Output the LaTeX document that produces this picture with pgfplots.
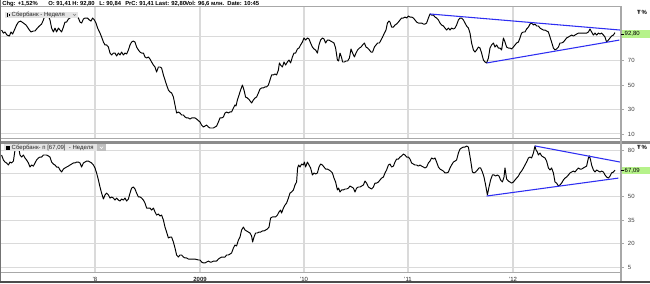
\documentclass[border=0pt]{standalone}
\usepackage{pgfplots}
\pgfplotsset{compat=1.18}
\usepackage{fontspec}
\setmainfont{Liberation Sans}
\definecolor{gridc}{HTML}{DADADA}
\definecolor{framec}{HTML}{A8A8A8}
\definecolor{trend}{HTML}{2E2EF2}
\definecolor{pricebox}{HTML}{B6F28A}
\definecolor{tagbox}{HTML}{E4E4E4}
\pgfplotsset{
 panel/.style={
  scale only axis, width=465.75pt, anchor=south west,
  xmin=0, xmax=310.5,
  axis line style={framec, line width=0.75pt},
  grid=major, major grid style={gridc, line width=0.75pt},
  x grid style={line width=1.3pt},
  xtick={47.5,100,152,204,256.5},
  ytick pos=right, yticklabel pos=right,
  y tick label style={font=\fontsize{4.5}{5}\selectfont, text=black!75, xshift=-0.5pt},
  tick align=outside, major tick length=2.2pt,
  y tick style={framec, line width=0.5pt},
  x tick style={draw=none},
  /pgf/number format/assume math mode=true,
  clip=true,
 },
 price/.style={black, line width=0.72pt, line join=round, mark=none},
 trendl/.style={trend, line width=0.8pt, mark=none},
}
\begin{document}
\begin{tikzpicture}
\fill[white] (0,0) rectangle (487.5pt,212.25pt);
\useasboundingbox (0,0) rectangle (487.5pt,212.25pt);
% ---------------- top panel: Sberbank ordinary, weekly ----------------
\begin{axis}[panel, at={(0pt,108.75pt)}, height=98.25pt,
  ymin=6.73, ymax=113.7, ytick={10,30,50,70,90}, yticklabels={10,30,50,70,},
  xticklabels={}]
\addplot[price] coordinates {
(0.8,94.9) (1.7,92.4) (2.5,93.3) (3.5,90.8) (4.7,90.0) (5.5,93.3) (6.3,91.6) (7.2,94.9)
(8.3,99.0) (9.2,101.4) (10.3,102.2) (11.7,100.6) (13,99.0) (14.7,94.9) (15.5,93.3) (16.7,94.1)
(17.5,94.1) (18.7,96.5) (19.7,98.2) (20.8,99.8) (21.7,103.1) (22.5,107.1) (23.3,105.5) (24.2,106.3)
(25,103.1) (25.8,96.5) (26.7,93.3) (27.5,96.5) (28.3,93.3) (29.2,96.5) (30,94.9) (30.8,93.3)
(31.7,97.3) (32.5,101.4) (33.3,101.4) (34.2,103.9) (35,104.7) (35.8,107.1) (36.7,108.0) (37.5,107.1)
(38.3,105.5) (39.2,104.7) (40,101.4) (40.8,100.6) (41.7,103.9) (42.5,104.7) (43.7,104.7) (44.7,103.1)
(45.5,102.2) (46.3,104.7) (47.2,103.1) (48,100.6) (48.8,96.5) (50,92.4) (50.8,89.2) (51.7,85.1)
(52.5,82.7) (53.3,82.7) (54.2,81.0) (55,76.1) (55.8,74.5) (56.7,76.1) (57.5,76.1) (58.3,73.7)
(59.2,76.1) (60,74.5) (60.8,76.9) (61.7,74.5) (62.5,76.1) (63.3,75.3) (64.2,78.6) (65,82.7)
(65.8,85.1) (66.7,85.9) (67.5,85.1) (68.3,81.0) (69.2,78.6) (70,76.9) (70.8,76.1) (71.7,76.1)
(72.5,72.9) (73.3,72.0) (74.2,72.9) (75,71.2) (75.8,68.8) (76.7,66.3) (77.5,64.7) (78.3,60.6)
(79.2,64.7) (80,64.7) (80.8,63.9) (81.7,58.2) (82.5,54.1) (83.3,50.0) (84.2,45.9) (85,44.3)
(85.8,43.5) (86.7,40.2) (87.5,33.7) (88.3,27.1) (89.2,28.0) (90,27.1) (90.8,25.5) (91.7,25.5)
(92.5,23.9) (93.3,23.1) (94.2,23.1) (95,22.2) (95.8,23.1) (96.7,23.1) (97.5,23.1) (98.3,22.2)
(100,19.8) (100.8,17.3) (101.7,15.7) (102.5,16.5) (103.3,17.3) (104.2,15.7) (105,14.9) (105.8,14.9)
(106.7,14.9) (107.5,15.7) (108.3,16.5) (109.2,19.8) (110,23.1) (110.8,23.1) (111.7,23.9) (112.5,27.1)
(113.3,28.0) (114.2,27.1) (115,28.0) (115.8,28.0) (116.7,31.2) (117.5,33.7) (118,32.9) (118.7,37.8)
(119.5,41.8) (120.3,45.9) (121.2,50.0) (122,45.9) (122.8,40.2) (123.7,39.4) (124.7,37.8) (125.8,35.3)
(126.7,37.8) (127.5,39.4) (128.3,40.2) (129.2,43.5) (130,46.7) (130.8,47.6) (131.7,47.6) (132.5,48.4)
(133.3,48.4) (134.2,50.0) (135,54.1) (135.8,58.2) (136.7,58.2) (137.5,59.0) (138.3,58.2) (139.2,62.2)
(139.7,68.0) (140.3,66.3) (141.2,64.7) (142,68.8) (142.8,66.3) (143.7,68.8) (144.5,70.4) (145.3,68.0)
(146.2,72.9) (147,76.1) (147.8,76.1) (148.7,79.4) (149.5,80.2) (150.3,82.7) (151.2,85.1) (152,88.4)
(152.8,86.7) (153.7,88.4) (154.5,87.6) (155.3,84.3) (156.2,81.0) (157,79.4) (157.8,78.6) (158.7,76.1)
(159.5,82.7) (160.3,86.7) (161.2,88.4) (162,87.6) (162.8,84.3) (163.7,86.7) (164.5,86.7) (165.3,85.9)
(166.2,85.1) (167,84.3) (167.8,80.2) (168.7,70.4) (169.3,69.6) (170,76.1) (170.7,72.9) (171.3,68.8)
(172.2,68.8) (173,69.6) (173.8,69.6) (174.7,72.0) (175.5,79.4) (176.3,76.1) (177.2,72.9) (178,76.1)
(178.8,78.6) (179.7,80.2) (180.5,81.0) (181.3,82.7) (182.2,84.3) (183,81.0) (183.8,80.2) (184.7,78.6)
(185.5,76.9) (186.3,76.9) (187.2,81.0) (188,82.7) (188.8,84.3) (189.7,84.3) (190.5,86.7) (191.3,89.2)
(192.2,92.4) (193,94.9) (193.7,100.6) (194.5,102.2) (195,101.4) (195.8,97.3) (196.7,97.3) (197.5,99.0)
(198.3,99.8) (199.2,101.4) (200,103.1) (200.8,104.7) (201.7,104.7) (202.5,105.5) (203.3,104.7) (204.2,106.3)
(205,105.5) (205.8,105.5) (206.7,104.7) (207.5,103.1) (208.3,101.4) (209.2,100.6) (210,100.6) (210.8,100.6)
(211.7,99.8) (212.5,99.8) (213.3,100.6) (214.2,104.7) (215,108.0) (215.8,107.1) (216.7,107.1) (217.5,105.5)
(218.3,104.7) (219.2,103.1) (220,100.6) (220.8,99.0) (221.7,98.2) (222.5,96.5) (223.3,94.9) (224.2,96.5)
(225,94.9) (225.8,96.5) (226.7,95.7) (227.5,96.5) (228.3,99.0) (229.2,103.1) (230,104.7) (230.8,104.7)
(231.7,103.1) (232.5,100.6) (233.3,98.2) (234.2,96.5) (235,92.4) (235.8,84.3) (236.7,78.6) (237.5,76.9)
(238.3,78.6) (239.2,81.0) (240,80.2) (240.8,76.1) (241.7,70.4) (242.5,68.8) (243.3,68.0) (244.2,72.0)
(245,80.2) (245.8,82.7) (246.7,84.3) (247.5,81.0) (248.3,82.7) (249.2,80.2) (250,80.2) (250.8,78.6)
(251.7,88.4) (252.5,85.1) (253.3,81.0) (254.2,80.2) (255,80.2) (255.8,79.4) (256.7,81.0) (257.5,82.7)
(258.3,84.3) (259.2,85.1) (260,88.4) (260.8,92.4) (261.7,93.3) (262.5,93.3) (263.3,95.7) (264.2,97.3)
(265,99.8) (265.8,100.6) (266.7,99.0) (267.5,99.8) (268.3,98.2) (269.2,98.2) (270,96.5) (270.8,95.7)
(271.7,94.9) (272.5,94.9) (273.3,94.1) (274.2,93.3) (275,89.2) (275.8,85.1) (276.7,80.2) (277.5,78.6)
(278.3,79.4) (279.2,81.0) (280,84.3) (280.8,84.3) (281.7,85.1) (282.5,86.7) (283.3,88.4) (284.2,89.2)
(285,90.0) (285.8,90.8) (286.7,90.0) (287.5,90.8) (288.3,91.6) (289.2,92.4) (290,92.4) (290.8,92.4)
(291.7,92.4) (292.5,92.4) (293.3,92.4) (294.2,93.3) (295,95.7) (295.8,93.3) (296.7,90.8) (297.5,92.4)
(298.3,90.8) (299.2,92.4) (300,91.6) (300.8,92.4) (301.7,90.8) (302.5,89.2) (303.3,85.1) (304.2,86.7)
(305,88.4) (305.8,90.0) (306.7,90.8) (307.5,92.8)
};
\addplot[trendl] coordinates {(215,108.0) (310,94.9)};
\addplot[trendl] coordinates {(243.3,68.0) (309.7,86.7)};
\end{axis}
% ---------------- bottom panel: Sberbank preferred, weekly ----------------
\begin{axis}[panel, at={(0pt,8.25pt)}, height=96.75pt,
  ymin=1.8, ymax=84.5, ytick={5,20,35,50,65,80}, yticklabels={5,20,35,50,,80},
  xticklabels={’8,\textbf{2009},’10,’11,’12},
  x tick label style={font=\fontsize{4.5}{5}\selectfont, text=black!85, inner sep=0pt, yshift=-1.9pt}]
\addplot[price] coordinates {
(0.8,76.8) (1.7,73.6) (2.5,72.3) (3.3,71.7) (4.2,70.4) (5,72.3) (5.8,71.7) (6.7,72.9)
(7.5,80.0) (8.3,81.9) (9.2,82.6) (10,76.8) (10.8,75.5) (11.7,76.8) (12.5,74.9) (13.3,73.6)
(14.2,71.7) (15,69.1) (15.8,70.4) (16.7,69.7) (17.5,71.7) (18.3,73.6) (19.2,74.9) (20,75.5)
(20.8,75.5) (21.7,76.8) (22.5,76.8) (23.3,76.8) (24.2,76.2) (25,75.5) (25.8,72.3) (26.7,71.0)
(27.5,70.4) (28.3,69.1) (29.2,69.1) (30,67.2) (30.8,65.9) (31.7,67.8) (32.5,68.5) (33.3,69.1)
(34.2,69.7) (35,70.4) (35.8,71.0) (36.7,71.7) (37.5,71.7) (38.3,72.3) (39.2,72.3) (40,71.7)
(40.8,69.1) (41.7,71.7) (42.5,72.3) (43.3,72.9) (44.2,72.9) (45,72.3) (45.8,71.7) (46.7,70.4)
(47.5,68.5) (48.3,65.3) (49.2,60.8) (50,56.3) (50.8,52.4) (51.7,48.6) (52.5,51.2) (53.3,52.4)
(54.2,51.2) (55,49.2) (55.8,49.9) (56.7,49.2) (57.5,47.9) (58.3,49.2) (59.2,47.9) (60,47.3)
(60.8,48.6) (61.7,47.9) (62.5,49.2) (63.3,47.3) (64.2,48.6) (65,52.4) (65.8,55.6) (66.7,56.3)
(67.5,55.0) (68.3,52.4) (69.2,49.9) (70,49.9) (70.8,49.2) (71.7,47.9) (72.5,46.0) (73.3,42.8)
(74.2,42.8) (75,42.8) (75.8,41.5) (76.7,42.8) (77.5,40.3) (78.3,38.3) (79.2,39.0) (80,37.7)
(80.8,38.3) (81.7,35.1) (82.5,30.6) (83.3,27.4) (84.2,23.6) (85,24.2) (85.8,24.2) (86.7,21.0)
(87.5,17.2) (88.3,12.7) (89.2,11.4) (90,12.7) (90.8,12.7) (91.7,11.4) (92.5,10.8) (93.3,10.8)
(94.2,10.1) (95,10.1) (95.8,10.1) (97.5,10.1) (99.2,9.5) (100,9.5) (100.8,8.2) (101.7,7.6)
(102.5,7.6) (103.3,8.2) (104.2,8.8) (105,8.2) (105.8,8.2) (106.7,8.8) (107.5,8.8) (108.3,8.8)
(109.2,10.1) (110,10.8) (110.8,11.4) (111.7,11.4) (112.5,11.4) (113.3,12.7) (114.2,12.7) (115,13.3)
(115.8,14.0) (116.7,17.2) (117.5,19.1) (118.3,18.5) (119.2,22.3) (120,24.2) (120.8,28.7) (121.7,30.6)
(122.5,28.7) (123.3,28.1) (124.2,27.4) (125,26.8) (125.8,24.9) (126.3,21.0) (127,24.2) (127.8,26.8)
(128.7,26.8) (129.5,27.4) (130.3,27.4) (131.2,28.1) (132,28.1) (132.8,28.7) (133.7,29.4) (134.5,30.6)
(135.3,36.4) (136.2,37.1) (137,37.1) (137.8,37.1) (138.7,38.3) (139.5,40.3) (140.3,41.5) (140.8,39.6)
(141.7,42.8) (142.5,44.7) (143.3,46.0) (144.2,49.2) (145,52.4) (145.8,53.1) (146.7,54.4) (147.5,57.6)
(148.3,59.5) (148.8,68.5) (149.3,70.4) (150,69.1) (150.8,71.0) (151.7,70.4) (152.2,72.3) (152.8,69.1)
(153.7,72.3) (154.5,70.4) (155.3,68.5) (156.2,64.0) (157,65.3) (157.8,64.6) (158.7,65.3) (159.5,69.1)
(160.3,71.0) (161.2,70.4) (162,69.1) (162.8,67.8) (163.7,67.8) (164.5,67.2) (165.3,66.5) (166.2,65.3)
(167,62.0) (167.8,59.5) (168.7,54.4) (169.3,55.6) (170,53.1) (170.8,54.4) (171.7,54.4) (172.5,55.0)
(173.3,55.0) (174.2,55.6) (175,56.9) (175.8,56.3) (176.7,55.6) (177.5,53.1) (178.3,55.6) (179.2,56.3)
(180,56.3) (180.8,56.9) (181.7,57.6) (182.5,60.1) (183.3,58.8) (184.2,56.3) (185,55.6) (185.8,55.0)
(186.7,56.3) (187.5,58.8) (188.3,58.8) (189.2,59.5) (190,60.8) (190.8,62.0) (191.7,62.7) (192.5,65.3)
(193.3,67.2) (194.2,70.4) (195,71.0) (195.8,69.1) (196.7,69.7) (197.5,72.3) (198.3,74.2) (199.2,74.2)
(200,75.5) (200.8,76.2) (201.7,77.4) (202.5,76.8) (203.3,75.5) (204.2,75.5) (205,74.2) (205.8,71.7)
(206.7,71.0) (207.5,70.4) (208.3,70.4) (209.2,69.7) (210,70.4) (210.8,69.7) (211.7,69.1) (212.5,68.5)
(213.3,69.1) (214.2,71.7) (215,72.9) (215.8,74.9) (216.7,74.2) (217.5,74.9) (218.3,72.3) (219.2,69.1)
(220,67.8) (220.8,67.2) (221.7,66.5) (222.5,65.3) (223.3,65.3) (224.2,65.9) (225,68.5) (225.8,70.4)
(226.7,72.3) (227.5,72.9) (228.3,73.6) (229.2,78.1) (230,80.6) (230.8,81.3) (231.7,81.9) (232.5,81.9)
(233.3,82.6) (234.2,81.9) (234.7,78.1) (235.3,73.6) (236.2,65.9) (237,65.3) (237.8,65.9) (238.7,67.2)
(239.5,68.5) (240.3,68.5) (241.2,65.9) (242,62.7) (242.8,57.6) (243.7,51.2) (244.5,56.3) (245.3,60.8)
(246.2,64.0) (247,64.0) (247.8,63.3) (248.7,64.0) (249.5,63.3) (250.3,60.8) (251.2,59.5) (252,62.7)
(252.5,68.5) (253.3,61.4) (254.2,60.1) (255,59.5) (255.8,58.8) (256.7,59.5) (257.5,60.8) (258.3,62.0)
(259.2,63.3) (260,65.3) (260.8,66.5) (261.7,68.5) (262.5,70.4) (263.3,72.3) (264.2,74.9) (265,75.5)
(265.8,74.9) (266.7,78.1) (267.5,82.6) (268,80.0) (268.7,78.7) (269.2,76.8) (270,78.1) (270.8,76.2)
(271.7,75.5) (272.5,74.9) (273.3,72.9) (274.2,68.5) (275,67.2) (275.8,68.5) (276.7,65.3) (277.5,59.5)
(278.3,58.8) (279.2,56.9) (280,57.6) (280.8,58.8) (281.7,60.8) (282.5,62.0) (283.3,62.7) (284.2,64.0)
(285,65.3) (285.8,65.9) (286.7,66.5) (287.5,65.9) (288.3,67.2) (289.2,68.5) (290,67.8) (290.8,67.8)
(291.7,68.5) (292.5,69.1) (293.3,69.7) (294.2,74.9) (294.7,76.2) (295.3,73.6) (295.8,70.4) (296.7,67.2)
(297.5,65.9) (298.3,67.2) (299.2,66.5) (300,65.9) (300.8,66.5) (301.7,65.9) (302.5,64.0) (303.3,62.7)
(304.2,62.0) (305,63.3) (305.8,65.3) (306.7,65.9) (307.5,67.09)
};
\addplot[trendl] coordinates {(267.5,82.6) (310,72.3)};
\addplot[trendl] coordinates {(243.3,50.5) (309.2,62.0)};
\end{axis}
% ---------------- frame and decorations ----------------
\fill[black!45] (0pt,104.4pt) rectangle (487.5pt,106.6pt);
\draw[framec, line width=1.5pt] (465.75pt,0.75pt) -- (465.75pt,207pt);
\draw[black!55, line width=0.75pt] (0.3pt,0pt) -- (0.3pt,212.25pt);
\draw[black!70, line width=1.1pt] (0pt,0.6pt) -- (487.5pt,0.6pt);
% info bar
\begin{scope}[every node/.style={anchor=west, inner sep=0pt, font=\fontsize{4.4}{5}\selectfont\bfseries}]
\node at (1.5pt,209.6pt) {Chg: +1,52\%};
\node at (36pt,209.6pt) {O: 91,41};
\node at (54pt,209.6pt) {H: 92,80};
\node at (74.25pt,209.6pt) {L: 90,84};
\node at (93.75pt,209.6pt) {PrC: 91,41};
\node at (116.25pt,209.6pt) {Last: 92,80};
\node at (138.75pt,209.6pt) {Vol: 96,6 млн.};
\node at (170.25pt,209.6pt) {Date: 10:45};
\end{scope}
% series tags
\fill[tagbox] (3.75pt,198.6pt) rectangle (58.5pt,203.4pt);
\draw[black, line width=0.4pt] (5.6pt,199.6pt) -- (5.6pt,202.4pt) (6.6pt,199.9pt) -- (6.6pt,202pt);
\node[anchor=west, inner sep=0pt, font=\fontsize{4.5}{5}\selectfont, text=black!85] at (8.6pt,201pt) {Сбербанк - Неделя};
\draw[black!50, line width=0.4pt] (54.8pt,201.8pt) -- (55.9pt,200.5pt) -- (57pt,201.8pt);
\fill[tagbox] (3pt,98.8pt) rectangle (79.5pt,104.1pt);
\fill[black!25] (72.8pt,98.8pt) rectangle (79.5pt,104.1pt);
\fill[black] (4.6pt,99.9pt) rectangle (7.6pt,102.9pt);
\node[anchor=west, inner sep=0pt, font=\fontsize{4.5}{5}\selectfont, text=black!85] at (8.6pt,101.4pt) {Сбербанк- п [67,09] \ - Неделя};
\draw[white, line width=0.4pt] (74.9pt,102.2pt) -- (76.1pt,100.9pt) -- (77.3pt,102.2pt);
% panel icons
\node[inner sep=0pt, font=\fontsize{4.5}{5}\selectfont\bfseries] at (481.5pt,202.9pt) {Ŧ\,\%};
\node[inner sep=0pt, font=\fontsize{4.5}{5}\selectfont\bfseries] at (481.5pt,101.6pt) {Ŧ\,\%};
% last-price boxes
\fill[pricebox] (466.5pt,184.1pt) rectangle (487.5pt,189.4pt);
\draw[black, line width=0.4pt] (465.75pt,186.75pt) -- (468pt,186.75pt);
\node[anchor=west, inner sep=0pt, font=\fontsize{4.5}{5}\selectfont] at (468.3pt,186.75pt) {92,80};
\fill[pricebox] (466.5pt,81.75pt) rectangle (487.5pt,87pt);
\draw[black, line width=0.4pt] (465.75pt,84.4pt) -- (468pt,84.4pt);
\node[anchor=west, inner sep=0pt, font=\fontsize{4.5}{5}\selectfont] at (468.3pt,84.4pt) {67,09};
\end{tikzpicture}
\end{document}
